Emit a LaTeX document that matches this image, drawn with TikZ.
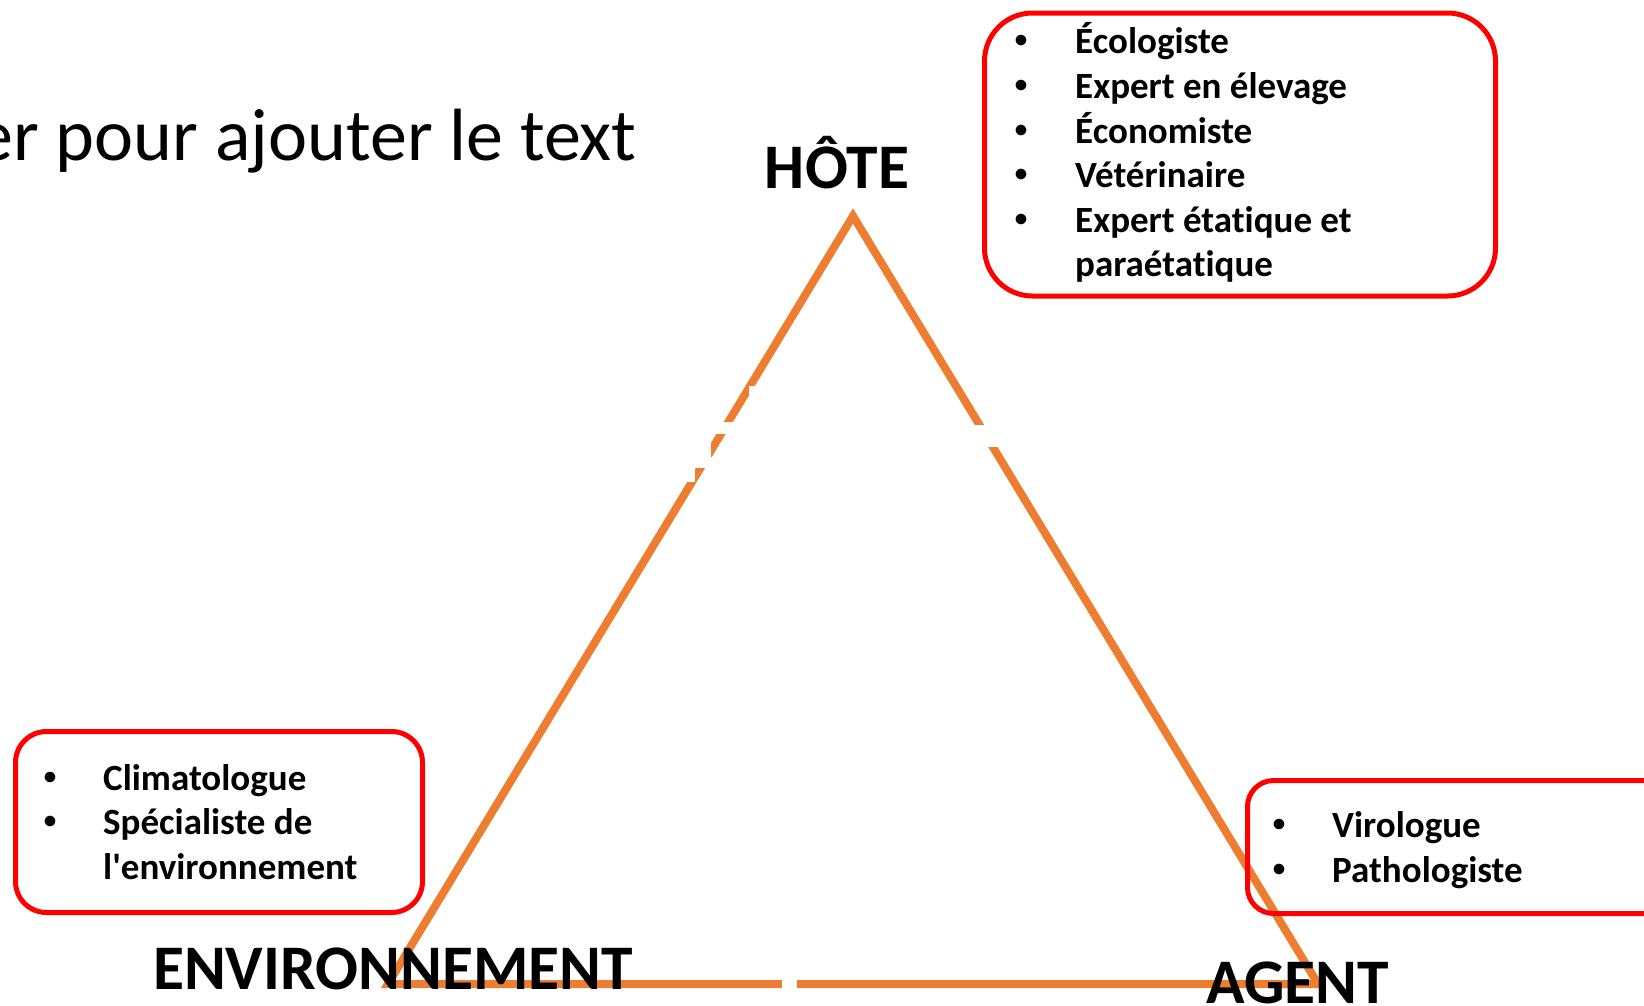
\documentclass[tikz,border=0pt]{standalone}
\usepackage{fontspec}
\setmainfont{Carlito}
\newfontfamily\calib{Carlito}[Ligatures=CommonOff]
\definecolor{triorange}{HTML}{ED7D31}
\definecolor{boxred}{HTML}{FF0000}
\begin{document}
\begin{tikzpicture}[x=1pt,y=-1pt,
  triline/.style={draw=triorange,line width=8pt,line join=miter},
  redbox/.style={draw=boxred,line width=5pt,rounded corners=#1,inner sep=0pt,outer sep=0pt,anchor=north west},
  biglabel/.style={font=\calib\fontsize{63.5}{76}\selectfont\bfseries,inner sep=0pt,anchor=base},
  itemtext/.style={font=\calib\fontsize{37}{44}\selectfont\bfseries,inner sep=0pt,anchor=base west},
  bulletmark/.style={font=\calib\fontsize{25}{30}\selectfont\bfseries,inner sep=0pt,anchor=center},
  mask/.style={fill=white,draw=none}]
\useasboundingbox (0,0) rectangle (1644,1005);
\clip (0,0) rectangle (1644,1005);

% title fragment
\node[font=\calib\fontsize{74}{88}\selectfont,inner sep=0pt,anchor=base east] (title) at (637,160) {er pour ajouter le text};

% triangle
\coordinate (apex) at (853,216);
\coordinate (bl) at (388,984);
\coordinate (br) at (1318,984);
\draw[triline] (bl) -- (apex) -- (br) -- cycle;

% white masks over the triangle edges
\fill[mask] (749,386) rectangle (757,395);
\fill[mask] (700,421.7) rectangle (745,434);
\fill[mask] (690,434) rectangle (711,456.7);
\fill[mask] (680,456.7) rectangle (730,468.3);
\fill[mask] (670,468.3) rectangle (695,482);
\fill[mask] (970,425) rectangle (1000,446.7);
\fill[mask] (781.7,975) rectangle (796.7,993);

% vertex labels
\node[biglabel] (hote) at (837,188) {HÔTE};
\node[biglabel] (env) at (393,989) {ENVIRONNEMENT};
\node[biglabel] (agent) at (1298,1003) {AGENT};

% boxes
\node[redbox=48pt,minimum width=511pt,minimum height=283pt] (hostbox) at (984.5,13) {};
\node[redbox=31pt,minimum width=407pt,minimum height=181pt] (envbox) at (15.5,731.5) {};
\node[redbox=26pt,minimum width=452pt,minimum height=133pt] (agentbox) at (1247.5,780.5) {};

% host list
\node[bulletmark] (hb1) at (1021,41.8) {•};
\node[itemtext] (h1) at (1075,53.8) {Écologiste};
\node[bulletmark] (hb2) at (1021,86.4) {•};
\node[itemtext] (h2) at (1075,98.4) {Expert en élevage};
\node[bulletmark] (hb3) at (1021,131) {•};
\node[itemtext] (h3) at (1075,143) {Économiste};
\node[bulletmark] (hb4) at (1021,175.6) {•};
\node[itemtext] (h4) at (1075,187.6) {Vétérinaire};
\node[bulletmark] (hb5) at (1021,220.2) {•};
\node[itemtext] (h5) at (1075,232.2) {Expert étatique et};
\node[itemtext] (h6) at (1075,276.8) {paraétatique};

% environment list
\node[bulletmark] (eb1) at (50,778) {•};
\node[itemtext] (e1) at (103,790) {Climatologue};
\node[bulletmark] (eb2) at (50,822.5) {•};
\node[itemtext] (e2) at (103,834.5) {Spécialiste de};
\node[itemtext] (e3) at (103,879) {l'environnement};

% agent list
\node[bulletmark] (ab1) at (1279,825) {•};
\node[itemtext] (a1) at (1332,837) {Virologue};
\node[bulletmark] (ab2) at (1279,870) {•};
\node[itemtext] (a2) at (1332,882) {Pathologiste};
\end{tikzpicture}
\end{document}
